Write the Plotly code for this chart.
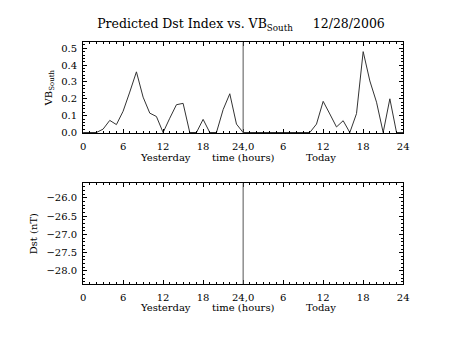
import plotly.graph_objects as go

hours = list(range(0, 49))
vb_south = [0, 0, 0, 0.02, 0.072, 0.047, 0.126, 0.24, 0.36, 0.21, 0.115, 0.095,
            0, 0.085, 0.165, 0.173, 0, 0, 0.078, 0, 0, 0.136, 0.23, 0.05,
            0, 0, 0, 0, 0, 0, 0, 0, 0, 0, 0, 0.05,
            0.185, 0.11, 0.033, 0.07, 0, 0.112, 0.48, 0.306, 0.18, 0, 0.2, 0,
            0]
dst_hours = []
dst_values = []

tick_vals = [0, 6, 12, 18, 24, 30, 36, 42, 48]
tick_text = ["0", "6", "12", "18", "24,0", "6", "12", "18", "24"]
vb_ticks = [0.0, 0.1, 0.2, 0.3, 0.4, 0.5]
dst_ticks = [-26.0, -26.5, -27.0, -27.5, -28.0]

FONT = "DejaVu Serif"
FS = 10
W, H = 453, 340

fig = go.Figure()
fig.add_trace(go.Scatter(x=hours, y=vb_south, mode="lines",
                         line=dict(color="#333333", width=1), xaxis="x", yaxis="y",
                         showlegend=False, hoverinfo="skip"))
fig.add_trace(go.Scatter(x=dst_hours, y=dst_values, mode="lines",
                         line=dict(color="#333333", width=1), xaxis="x2", yaxis="y2",
                         showlegend=False))

def px_x(p):
    return p / W

def px_y(p):
    return 1 - p / H

common_x = dict(range=[0, 48], tickvals=tick_vals, ticktext=tick_text,
                ticks="inside", ticklen=4, tickcolor="black", tickwidth=1,
                showgrid=False, zeroline=False, showline=True, linecolor="black",
                linewidth=1, mirror="ticks", ticklabelstandoff=4,
                minor=dict(dtick=1, ticks="inside", ticklen=2, tickcolor="black"),
                tickfont=dict(family=FONT, size=FS, color="black"))
common_y = dict(ticks="inside", ticklen=4, tickcolor="black", tickwidth=1,
                showgrid=False, zeroline=False, showline=True, linecolor="black",
                linewidth=1, mirror="ticks", ticklabelstandoff=3,
                tickfont=dict(family=FONT, size=FS, color="black"))

fig.update_layout(
    width=W, height=H,
    margin=dict(l=0, r=0, t=0, b=0),
    paper_bgcolor="white", plot_bgcolor="white",
    xaxis=dict(domain=[px_x(81.7), px_x(408.3)], anchor="y", **common_x),
    yaxis=dict(domain=[px_y(135), px_y(43)], anchor="x", range=[-0.003, 0.535],
               tickvals=vb_ticks, tickformat=".1f",
               minor=dict(dtick=0.02, ticks="inside", ticklen=2, tickcolor="black"),
               title=dict(text="VB<sub>South</sub>", font=dict(family=FONT, size=FS, color="black"), standoff=6),
               **common_y),
    xaxis2=dict(domain=[px_x(81.7), px_x(408.3)], anchor="y2", **common_x),
    yaxis2=dict(domain=[px_y(288.3), px_y(186)], anchor="x2", range=[-28.36, -25.6],
                tickvals=dst_ticks, tickformat=".1f",
                minor=dict(dtick=0.1, ticks="inside", ticklen=2, tickcolor="black"),
                title=dict(text="Dst (nT)", font=dict(family=FONT, size=FS, color="black"), standoff=6),
                **common_y),
    title=dict(text="Predicted Dst Index vs. VB<sub>South</sub>\u00a0\u00a0\u00a0\u00a0\u00a012/28/2006",
               x=px_x(241), xanchor="center", y=px_y(24), yanchor="middle",
               font=dict(family=FONT, size=12.5, color="black")),
)

for xa, ya in [("x", "y"), ("x2", "y2")]:
    fig.add_shape(type="line", xref=xa, yref=ya + " domain", x0=24, x1=24, y0=0, y1=1,
                  line=dict(color="#555555", width=1))

for yref_px in [160, 312]:
    for xv, txt in [(12.3, "Yesterday"), (24, "time (hours)"), (35.7, "Today")]:
        fig.add_annotation(x=xv, xref="x", y=px_y(yref_px), yref="paper", text=txt,
                           showarrow=False, xanchor="center", yanchor="middle",
                           font=dict(family=FONT, size=FS, color="black"))

fig.write_html("out.html")
